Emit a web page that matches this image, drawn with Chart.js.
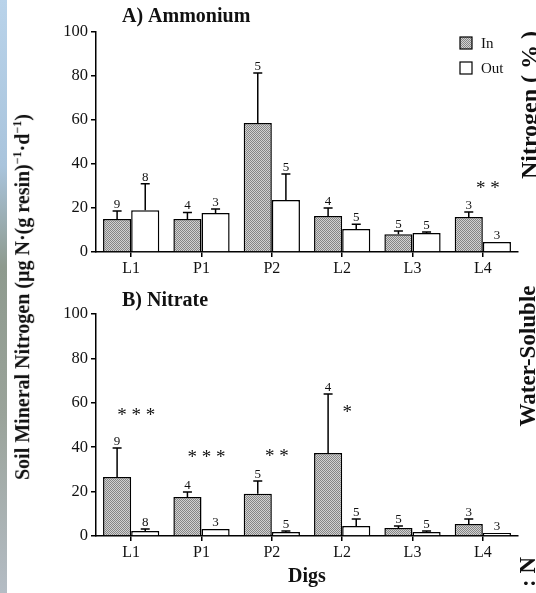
<!DOCTYPE html>
<html>
<head>
<meta charset="utf-8">
<script src="https://cdn.jsdelivr.net/npm/chart.js@4.4.0/dist/chart.umd.min.js"></script>
<style>
    html, body { margin: 0; padding: 0; background: #fff; }
    body { width: 536px; height: 593px; position: relative; overflow: hidden; font-family: "Liberation Serif", serif; }
    canvas { position: absolute; left: 0; }
    #panelA { top: 0; }
    #panelB { top: 280px; }
    .vtext { position: absolute; white-space: nowrap; font-weight: bold; color: #111;
             transform: translate(-50%, -50%) rotate(-90deg); }
    #edge { position: absolute; left: 0; top: 0; width: 7px; height: 593px;
            background: linear-gradient(#b9d3ea 0%, #a9c4dc 28%, #8e9a8e 45%, #9aa39a 70%, #b4bcc4 100%); }
</style>
</head>
<body>
<div id="edge"></div>
<canvas id="panelA" width="536" height="290"></canvas>
<canvas id="panelB" width="536" height="313"></canvas>
<div class="vtext" style="left:22px; top:297px; font-size:20px;">Soil Mineral Nitrogen (µg N·(g resin)<sup style="font-size:12px">−1</sup>·d<sup style="font-size:12px">−1</sup>)</div>
<div class="vtext" style="left:529px; top:105px; font-size:24px;">Nitrogen ( % )</div>
<div class="vtext" style="left:528px; top:356px; font-size:23px;">Water-Soluble</div>
<div class="vtext" style="left:528px; top:572px; font-size:23px;">: N</div>
<script>
const digs = ["L1", "P1", "P2", "L2", "L3", "L4"];
const yTicks = [0, 20, 40, 60, 80, 100];

const ammoniumIn = [15, 15, 58.6, 16.4, 8.1, 15.9];
const ammoniumInSE = [3.6, 3, 22.8, 3.6, 1.4, 2.3];
const ammoniumOut = [19, 17.7, 23.6, 10.5, 8.6, 4.5];
const ammoniumOutSE = [12, 1.8, 11.9, 2.1, 0.5, 0];

const nitrateIn = [26.6, 17.6, 19, 37.4, 3.6, 5.4];
const nitrateInSE = [13, 2.2, 5.8, 26.6, 0.9, 2.3];
const nitrateOut = [2.3, 3.2, 1.8, 4.5, 1.8, 1.4];
const nitrateOutSE = [0.9, 0, 0.5, 3.2, 0.5, 0];

const nIn = [9, 4, 5, 4, 5, 3];
const nOut = [8, 3, 5, 5, 5, 3];

// significance marks and the height (axis units) they sit at
const ammoniumStars = [null, null, null, null, null, "* *"];
const ammoniumStarsAt = [null, null, null, null, null, 30.5];
const nitrateStars = ["* * *", "* * *", "* *", "*", null, null];
const nitrateStarsAt = [56, 37, 37.4, 57, null, null];

const SERIF = "'Liberation Serif', 'Times New Roman', serif";

const makeStipple = () => {
    const c = document.createElement("canvas");
    c.width = 2;
    c.height = 2;
    const g = c.getContext("2d");
    g.fillStyle = "#d2d2d2";
    g.fillRect(0, 0, 2, 2);
    g.fillStyle = "#858585";
    g.fillRect(0, 0, 1, 1);
    g.fillRect(1, 1, 1, 1);
    return g.createPattern(c, "repeat");
};
const stipple = makeStipple();

// error bars + n labels + asterisks + panel title
const extras = {
    id: "extras",
    afterDatasetsDraw(chart, args, opts) {
        const ctx = chart.ctx;
        const y = chart.scales.y;
        const x = chart.scales.x;
        ctx.save();
        chart.data.datasets.forEach((ds, di) => {
            const meta = chart.getDatasetMeta(di);
            meta.data.forEach((bar, i) => {
                const err = ds.errors[i];
                const top = y.getPixelForValue(ds.data[i] + err);
                if (err > 0) {
                    ctx.strokeStyle = "#000";
                    ctx.lineWidth = 1.5;
                    ctx.beginPath();
                    ctx.moveTo(bar.x, bar.y);
                    ctx.lineTo(bar.x, top);
                    ctx.moveTo(bar.x - 4.5, top);
                    ctx.lineTo(bar.x + 4.5, top);
                    ctx.stroke();
                }
                ctx.fillStyle = "#111";
                ctx.font = "13px " + SERIF;
                ctx.textAlign = "center";
                ctx.textBaseline = "alphabetic";
                ctx.fillText(ds.counts[i], bar.x, top - 3);
            });
        });

        ctx.font = "19px " + SERIF;
        ctx.textAlign = "center";
        ctx.textBaseline = "middle";
        opts.stars.forEach((s, i) => {
            if (!s) return;
            ctx.fillText(s, x.getPixelForValue(i) + 5, y.getPixelForValue(opts.starsAt[i]) + 4);
        });

        ctx.font = "bold 20px " + SERIF;
        ctx.textAlign = "left";
        ctx.fillText(opts.title, 122, opts.titleY);

        if (opts.legend) {
            ctx.font = "15px " + SERIF;
            chart.data.datasets.forEach((ds, di) => {
                const ly = 43 + di * 25;
                ctx.fillStyle = ds.backgroundColor;
                ctx.fillRect(460, ly - 6, 12, 12);
                ctx.strokeStyle = "#000";
                ctx.lineWidth = 1.2;
                ctx.strokeRect(460, ly - 6, 12, 12);
                ctx.fillStyle = "#111";
                ctx.fillText(ds.label, 481, ly + 1);
            });
        }
        ctx.restore();
    },
};

const makePanel = (id, inData, inSE, outData, outSE, opts) => {
    const ctx = document.getElementById(id).getContext("2d");
    return new Chart(ctx, {
        type: "bar",
        data: {
            labels: digs,
            datasets: [
                {
                    label: "In",
                    data: inData,
                    errors: inSE,
                    counts: nIn,
                    backgroundColor: stipple,
                    borderColor: "#000",
                    borderWidth: 1.5,
                },
                {
                    label: "Out",
                    data: outData,
                    errors: outSE,
                    counts: nOut,
                    backgroundColor: "#fff",
                    borderColor: "#000",
                    borderWidth: 1.5,
                },
            ],
        },
        options: {
            responsive: false,
            animation: false,
            devicePixelRatio: 1,
            layout: { padding: { left: 40, right: 18, top: opts.top, bottom: 0 } },
            datasets: { bar: { categoryPercentage: 0.8, barPercentage: 1.0 } },
            scales: {
                x: {
                    afterFit: (s) => { s.height = opts.xHeight; },
                    grid: { drawOnChartArea: false, drawTicks: true, tickLength: 5, color: "#000", lineWidth: 1.5, offset: false },
                    border: { color: "#000", width: 1.5 },
                    ticks: { color: "#111", font: { family: SERIF, size: 16 }, padding: 2 },
                    title: opts.xTitle ? {
                        display: true, text: opts.xTitle, color: "#111",
                        font: { family: SERIF, size: 20, weight: "bold" }, padding: { top: 0, bottom: 4 },
                    } : { display: false },
                },
                y: {
                    min: 0,
                    max: 100,
                    afterFit: (s) => { s.width = 56; },
                    afterBuildTicks: (s) => { s.ticks = yTicks.map((v) => ({ value: v })); },
                    grid: { drawOnChartArea: false, drawTicks: true, tickLength: 5, color: "#000", lineWidth: 1.5 },
                    border: { color: "#000", width: 1.5 },
                    ticks: { color: "#111", font: { family: SERIF, size: 16.5 }, padding: 3 },
                },
            },
            plugins: {
                legend: { display: false },
                tooltip: { enabled: false },
                extras: opts,
            },
        },
        plugins: [extras],
    });
};

makePanel("panelA", ammoniumIn, ammoniumInSE, ammoniumOut, ammoniumOutSE, {
    top: 32, xHeight: 38, title: "A) Ammonium", titleY: 17,
    stars: ammoniumStars, starsAt: ammoniumStarsAt, legend: true,
});
makePanel("panelB", nitrateIn, nitrateInSE, nitrateOut, nitrateOutSE, {
    top: 34, xHeight: 57, xTitle: "Digs", title: "B) Nitrate", titleY: 21,
    stars: nitrateStars, starsAt: nitrateStarsAt, legend: false,
});
</script>
</body>
</html>
